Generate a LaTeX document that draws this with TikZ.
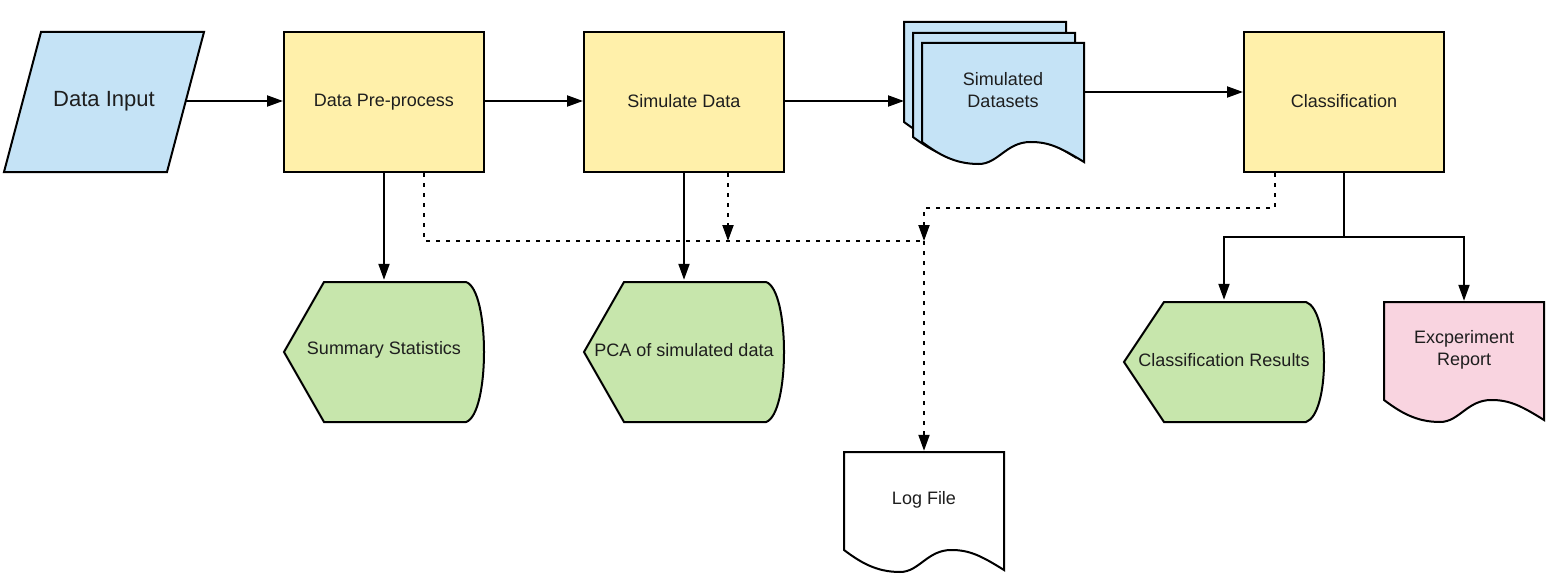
\documentclass[tikz,border=0pt]{standalone}
\usepackage{fontspec}
\setmainfont{Liberation Sans}
\usetikzlibrary{arrows.meta,calc}
\definecolor{cblue}{RGB}{197,227,246}
\definecolor{cyellow}{RGB}{255,240,170}
\definecolor{cgreen}{RGB}{199,230,172}
\definecolor{cpink}{RGB}{249,212,224}
\definecolor{ctext}{RGB}{30,30,30}
\newcommand\mydoc[5]{%
  \filldraw[#1] (#2,#3) -- ({#2+#4},#3) -- ({#2+#4},{#3+#5+20})
   .. controls ({#2+0.85*#4},{#3+#5+5}) and ({#2+0.78*#4},{#3+#5}) .. ({#2+0.67*#4},{#3+#5})
   .. controls ({#2+0.52*#4},{#3+#5}) and ({#2+0.47*#4},{#3+#5+22}) .. ({#2+0.35*#4},{#3+#5+22})
   .. controls ({#2+0.2*#4},{#3+#5+22}) and ({#2+0.1*#4},{#3+#5+12}) .. (#2,{#3+#5}) -- cycle;}
\newcommand\mydisp[5]{%
  \filldraw[#1] (#2,{#3+#5/2}) -- ({#2+40},#3) -- ({#2+#4-18},#3)
   .. controls ({#2+#4+6},{#3+8}) and ({#2+#4+6},{#3+#5-8}) .. ({#2+#4-18},{#3+#5})
   -- ({#2+40},{#3+#5}) -- cycle;}
\begin{document}
\begin{tikzpicture}[x=1pt,y=-1pt,
  shp/.style={draw=black,line width=2pt,line join=miter},
  proc/.style={shp,fill=cyellow,minimum width=200pt,minimum height=140pt,inner sep=0pt,
    font=\fontsize{18}{22}\selectfont,text=ctext},
  txt/.style={inner sep=0pt,font=\fontsize{18}{22}\selectfont,text=ctext,align=center},
  conn/.style={line width=2pt,draw=black},
  arr/.style={-{Triangle[length=16pt,width=11pt]}},
  dotl/.style={conn,dash pattern=on 4pt off 6pt}]
\useasboundingbox (0,0) rectangle (1555,575);
% Data Input
\filldraw[shp,fill=cblue] (4,172) -- (167,172) -- (204,32) -- (41,32) -- cycle;
\node[txt,font=\fontsize{22}{26}\selectfont,minimum width=200pt,minimum height=140pt] (din) at (104,101) {Data Input};
\coordinate (dinout) at (186,101);
% processes
\node[proc] (pre) at (384,102) {\raisebox{2pt}{Data Pre-process}};
\node[proc] (sim) at (684,102) {\raisebox{2pt}{Simulate Data}};
\node[proc] (cls) at (1344,102) {\raisebox{2pt}{Classification}};
% Simulated datasets
\mydoc{shp,fill=cblue}{904}{22}{162}{100}
\mydoc{shp,fill=cblue}{913}{33}{162}{104}
\mydoc{shp,fill=cblue}{922}{43}{162}{99}
\node[txt,minimum width=162pt,minimum height=99pt] (sd) at (1003,90) {Simulated\\Datasets};
\coordinate (sdin) at (904,101);
\coordinate (sdout) at (1084,92);
% displays
\mydisp{shp,fill=cgreen}{284}{282}{200}{140}
\node[txt,minimum width=200pt,minimum height=140pt] (sum) at (384,350) {Summary Statistics};
\mydisp{shp,fill=cgreen}{584}{282}{200}{140}
\node[txt,minimum width=200pt,minimum height=140pt] (pca) at (684,350) {PCA of simulated data};
\mydisp{shp,fill=cgreen}{1124}{302}{200}{120}
\node[txt,minimum width=200pt,minimum height=120pt] (cres) at (1224,360) {Classification Results};
% documents
\mydoc{shp,fill=cpink}{1384}{302}{160}{98}
\node[txt,minimum width=160pt,minimum height=98pt] (rep) at (1464,350) {Excperiment\\Report};
\mydoc{shp,fill=white}{844}{452}{160}{98}
\node[txt,minimum width=160pt,minimum height=98pt] (log) at (924,500) {Log File};
% connectors
\draw[conn,arr] (dinout) -- (dinout -| pre.west);
\draw[conn,arr] (pre.east |- dinout) -- (sim.west |- dinout);
\draw[conn,arr] (sim.east |- dinout) -- (sdin);
\draw[conn,arr] (sdout) -- (sdout -| cls.west);
\draw[conn,arr] (pre.south) -- (sum.north);
\draw[conn,arr] (sim.south) -- (pca.north);
\coordinate (cb) at (1344,237);
\draw[conn] (cls.south) -- (cb);
\draw[conn,arr] (cb) -| (cres.north);
\draw[conn,arr] (cb) -| (rep.north);
% dotted
\coordinate (jn) at (924,241);
\coordinate (cj) at (924,208);
\coordinate (pd) at ($(pre.south)+(40,0)$);
\coordinate (sdd) at ($(sim.south)+(44,0)$);
\coordinate (cd) at ($(cls.south)+(-69,0)$);
\draw[dotl] (pd) |- (jn);
\draw[dotl,arr] (jn) -- (log.north);
\draw[dotl,arr] (sdd) -- (sdd |- jn);
\draw[dotl,arr] (cd) |- (cj) -- (jn);
\end{tikzpicture}
\end{document}
